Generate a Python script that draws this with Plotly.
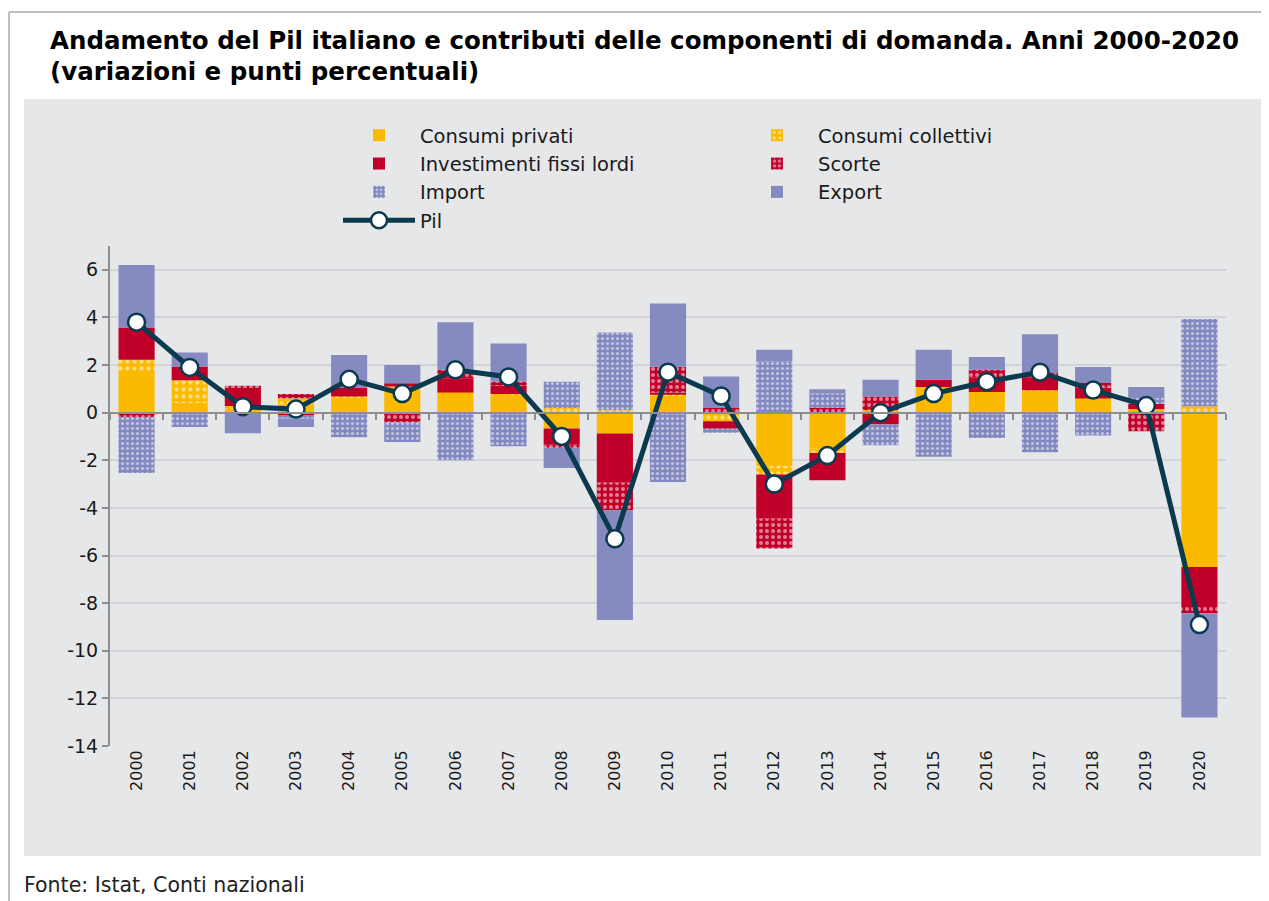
import plotly.graph_objects as go

years = [str(y) for y in range(2000, 2021)]

consumi_privati = [1.67, 0.42, 0.15, 0.35, 0.65, 1.10, 0.80, 0.75, -0.66, -0.88, 0.70,
                   -0.10, -2.25, -1.51, 0.10, 1.08, 0.82, 0.92, 0.57, 0.15, -6.48]
consumi_collettivi = [0.55, 0.94, 0.13, 0.25, 0.03, 0.00, 0.05, 0.03, 0.20, 0.10, 0.05,
                      -0.26, -0.35, -0.18, -0.05, 0.00, 0.05, 0.02, 0.03, 0.00, 0.27]
investimenti = [1.36, 0.58, 0.76, -0.10, 0.36, 0.14, 0.60, 0.35, -0.67, -2.06, 0.10,
                -0.32, -1.86, -1.15, -0.45, 0.30, 0.60, 0.55, 0.45, 0.21, -1.64]
scorte = [-0.18, -0.05, 0.09, 0.18, 0.00, -0.40, 0.35, 0.18, -0.14, -1.16, 1.08,
          0.20, -1.24, 0.20, 0.58, -0.05, 0.33, 0.20, 0.20, -0.78, -0.30]
import_ = [-2.35, -0.55, -0.05, -0.15, -1.03, -0.83, -2.00, -1.41, 1.10, 3.27, -2.91,
           -0.16, 2.15, 0.60, -0.87, -1.80, -1.06, -1.66, -0.96, 0.26, 3.66]
export = [2.62, 0.59, -0.81, -0.35, 1.38, 0.76, 2.00, 1.59, -0.85, -4.61, 2.66,
          1.32, 0.49, 0.18, 0.70, 1.26, 0.54, 1.60, 0.67, 0.46, -4.38]
pil = [3.8, 1.9, 0.25, 0.15, 1.4, 0.8, 1.8, 1.5, -1.0, -5.3, 1.7,
       0.7, -3.0, -1.8, 0.0, 0.8, 1.3, 1.7, 0.95, 0.3, -8.9]

y_ticks = list(range(-14, 7, 2))
y_ticktext = [str(v) for v in y_ticks]

YELLOW = "#FBBA00"
RED = "#C1002A"
BLUE = "#858BC0"
NAVY = "#0B3A4E"
PANEL = "#E6E7E9"
GRID = "#D3D4D7"
AXIS = "#8E8E8E"
FONT = "DejaVu Sans, Verdana, sans-serif"

fig = go.Figure()

fig.add_trace(go.Bar(name="Consumi privati", x=years, y=consumi_privati,
                     marker=dict(color=YELLOW, line=dict(width=0))))
fig.add_trace(go.Bar(name="Consumi collettivi", x=years, y=consumi_collettivi,
                     marker=dict(color=YELLOW, line=dict(width=0),
                                 pattern=dict(shape=".", fgcolor="white", bgcolor=YELLOW,
                                              size=7, solidity=0.3))))
fig.add_trace(go.Bar(name="Investimenti fissi lordi", x=years, y=investimenti,
                     marker=dict(color=RED, line=dict(width=0))))
fig.add_trace(go.Bar(name="Scorte", x=years, y=scorte,
                     marker=dict(color=RED, line=dict(width=0),
                                 pattern=dict(shape=".", fgcolor="white", bgcolor=RED,
                                              size=6, solidity=0.35))))
fig.add_trace(go.Bar(name="Import", x=years, y=import_,
                     marker=dict(color=BLUE, line=dict(width=0),
                                 pattern=dict(shape=".", fgcolor="white", bgcolor="#8389C0",
                                              size=5, solidity=0.32))))
fig.add_trace(go.Bar(name="Export", x=years, y=export,
                     marker=dict(color=BLUE, line=dict(width=0))))
fig.add_trace(go.Scatter(name="Pil", x=years, y=pil, xaxis="x2", yaxis="y",
                         mode="lines+markers",
                         line=dict(color=NAVY, width=5),
                         marker=dict(symbol="circle", size=17, color="white",
                                     line=dict(color=NAVY, width=2.5))))

# page body adds an 8px offset; everything is expressed in reference pixels minus 8
OFF = 8
W, H = 1269 - OFF, 901 - OFF
L, T = 110 - OFF, 246 - OFF
R = W - (1226 - OFF)
B = H - (746 - OFF)
pw, ph = W - L - R, H - T - B


def px_x(p):
    return (p - OFF - L) / pw


def px_y(p):
    return (H - B - (p - OFF)) / ph


shapes = [
    dict(type="rect", xref="paper", yref="paper", layer="below",
         x0=px_x(24), x1=px_x(1280), y0=px_y(856), y1=px_y(99),
         fillcolor=PANEL, line=dict(width=0)),
    dict(type="line", xref="paper", yref="paper", layer="below",
         x0=px_x(9), x1=px_x(1280), y0=px_y(12), y1=px_y(12),
         line=dict(color="#A8A8A8", width=1.5)),
    dict(type="line", xref="paper", yref="paper", layer="below",
         x0=px_x(9), x1=px_x(9), y0=px_y(12), y1=px_y(910),
         line=dict(color="#A8A8A8", width=1.5)),
]

annotations = [
    dict(text="<b>Andamento del Pil italiano e contributi delle componenti di domanda. Anni 2000-2020</b>",
         xref="paper", yref="paper", x=px_x(48), y=px_y(40), xanchor="left", yanchor="middle",
         showarrow=False, font=dict(family="DejaVu Sans, Verdana", size=24.5, color="black")),
    dict(text="<b>(variazioni e punti percentuali)</b>",
         xref="paper", yref="paper", x=px_x(48), y=px_y(72), xanchor="left", yanchor="middle",
         showarrow=False, font=dict(family="DejaVu Sans, Verdana", size=24.5, color="black")),
    dict(text="Fonte: Istat, Conti nazionali",
         xref="paper", yref="paper", x=px_x(22), y=px_y(885), xanchor="left", yanchor="middle",
         showarrow=False, font=dict(family=FONT, size=20.5, color="#222222")),
]

fig.update_layout(
    width=W, height=H,
    margin=dict(l=L, r=R, t=T, b=B),
    paper_bgcolor="white",
    plot_bgcolor="rgba(0,0,0,0)",
    barmode="relative",
    bargap=0.32,
    font=dict(family=FONT, size=19, color="#1A1A1A"),
    shapes=shapes,
    annotations=annotations,
    legend=dict(orientation="h", x=px_x(338), y=px_y(116), xanchor="left", yanchor="top",
                entrywidth=311, entrywidthmode="pixels", itemwidth=72,
                bgcolor="rgba(0,0,0,0)", font=dict(family=FONT, size=19.5, color="#1A1A1A"),
                traceorder="normal"),
    xaxis=dict(type="category", range=[-0.5, 20.5], showgrid=False, showline=False, ticks="",
               tickangle=-90, tickfont=dict(size=16, color="#1A1A1A"), zeroline=False),
    xaxis2=dict(type="category", overlaying="x", matches="x", anchor="free",
                position=14 / 21, side="bottom", showgrid=False, showline=True,
                linecolor=AXIS, linewidth=2, ticks="outside", tickson="boundaries",
                ticklen=6, tickwidth=2, tickcolor=AXIS, showticklabels=False),
    yaxis=dict(range=[-14, 7], tickvals=y_ticks, ticktext=y_ticktext, showgrid=True,
               gridcolor=GRID, gridwidth=1.5,
               zeroline=False, showline=True, linecolor=AXIS, linewidth=2,
               ticks="outside", ticklen=6, tickwidth=2, tickcolor=AXIS,
               tickfont=dict(size=19, color="#1A1A1A")),
)

fig.write_html("out.html")
